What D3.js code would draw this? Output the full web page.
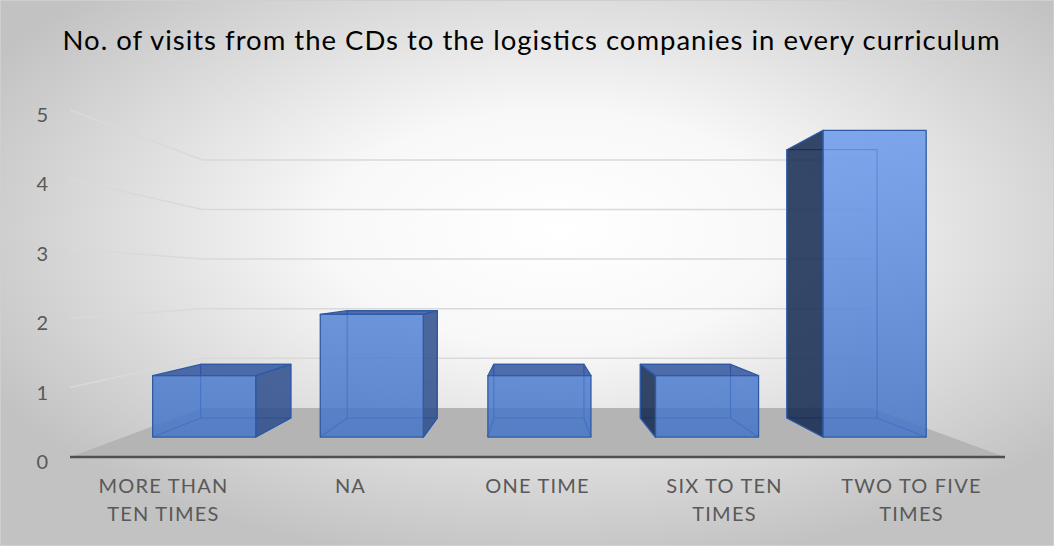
<!DOCTYPE html>
<html>
<head>
<meta charset="utf-8">
<script src="https://cdn.jsdelivr.net/npm/d3@7"></script>
<style>
  html, body { margin: 0; padding: 0; background: #fff; }
  svg { display: block; }
  text { font-family: Lato, "Open Sans", sans-serif; }
</style>
</head>
<body>
<div id="chart"></div>
<script>
// Chart data
const title = "No. of visits from the CDs to the logistics companies in every curriculum";
const categories = ["MORE THAN TEN TIMES", "NA", "ONE TIME", "SIX TO TEN TIMES", "TWO TO FIVE TIMES"];
const categoryLines = [["MORE THAN", "TEN TIMES"], ["NA"], ["ONE TIME"], ["SIX TO TEN", "TIMES"], ["TWO TO FIVE", "TIMES"]];
const visits = [1, 2, 1, 1, 5];
const yTicks = [0, 1, 2, 3, 4, 5];

const W = 1054, H = 546;
const svg = d3.select("#chart").append("svg").attr("width", W).attr("height", H);
const defs = svg.append("defs");

// Background: soft radial shading
const bg = defs.append("radialGradient").attr("id", "bg")
  .attr("cx", "53%").attr("cy", "42%").attr("r", "62%");
bg.append("stop").attr("offset", "0%").attr("stop-color", "#ffffff");
bg.append("stop").attr("offset", "35%").attr("stop-color", "#f8f8f8");
bg.append("stop").attr("offset", "100%").attr("stop-color", "#c2c2c2");
svg.append("rect").attr("x", 0.5).attr("y", 0.5).attr("width", W - 1).attr("height", H - 1)
  .attr("fill", "url(#bg)").attr("stroke", "#cfcfcf").attr("stroke-width", 1);

// Front face shading (lighter towards the top)
const fg = defs.append("linearGradient").attr("id", "frontFill")
  .attr("gradientUnits", "userSpaceOnUse").attr("x1", 0).attr("y1", 130).attr("x2", 0).attr("y2", 440);
fg.append("stop").attr("offset", "0%").attr("stop-color", "#6a9aec");
fg.append("stop").attr("offset", "100%").attr("stop-color", "#4574c6");

// Perspective set-up: one vanishing point, front plane scales, depth scale
const vp = { x: 535, y: 285 };
const yFront = d3.scaleLinear().domain([0, 5]).range([457, 110]);
const xCat = d3.scaleBand().domain(categories).range([70, 1005]);
const xBar = d3.scaleBand().domain(categories).range([66, 1014]).paddingInner(0.385).paddingOuter(0.1925);
const depth = d3.scaleLinear().domain([0, 1]).range([1, 0.715]);
const barDepth = [0.407, 0.796];

function project(x, v, z) {
  const s = depth(z);
  return [vp.x + (x - vp.x) * s, vp.y + (yFront(v) - vp.y) * s];
}
const poly = pts => "M" + pts.map(p => p.join(",")).join("L") + "Z";

const plot = svg.append("g");

// Floor
const floorX = xCat.range();
plot.append("path")
  .attr("d", poly([project(floorX[0], 0, 0), project(floorX[1], 0, 0), project(floorX[1], 0, 1), project(floorX[0], 0, 1)]))
  .attr("fill", "#b4b4b4");

// Gridlines: left side wall and back wall
yTicks.filter(v => v > 0).forEach(v => {
  const a = project(floorX[0], v, 0), b = project(floorX[0], v, 1), c = project(floorX[1], v, 1);
  plot.append("path").attr("d", `M${a}L${b}L${c}`)
    .attr("fill", "none").attr("stroke", "#d9d9d9").attr("stroke-width", 1.5);
});

// Category axis line
plot.append("line")
  .attr("x1", project(floorX[0], 0, 0)[0]).attr("x2", project(floorX[1], 0, 0)[0])
  .attr("y1", yFront(0)).attr("y2", yFront(0))
  .attr("stroke", "#505050").attr("stroke-width", 2.5);

// Bars drawn as transparent boxes
const edge = "#2f5aa6";
categories.forEach((cat, i) => {
  const v = visits[i];
  const x0 = xBar(cat), x1 = x0 + xBar.bandwidth();
  const [zf, zb] = barDepth;
  const P = (x, y, z) => project(x, y, z);
  const g = plot.append("g");

  // Hidden edges (seen through the faces)
  g.append("path").attr("d", poly([P(x0, 0, zb), P(x1, 0, zb), P(x1, v, zb), P(x0, v, zb)]))
    .attr("fill", "none").attr("stroke", edge).attr("stroke-width", 1.2);
  g.append("path").attr("d", `M${P(x0, 0, zf)}L${P(x0, 0, zb)}M${P(x1, 0, zf)}L${P(x1, 0, zb)}`)
    .attr("fill", "none").attr("stroke", edge).attr("stroke-width", 1.2);

  const sideStyle = (sel, color) => sel.attr("fill", color).attr("fill-opacity", 0.85)
    .attr("stroke", edge).attr("stroke-width", 1.3).attr("stroke-linejoin", "round");

  // Visible side faces
  if (P(x1, 0, zf)[0] < vp.x) {
    sideStyle(g.append("path").attr("d", poly([P(x1, 0, zf), P(x1, 0, zb), P(x1, v, zb), P(x1, v, zf)])), "#2b4c8c");
  }
  if (P(x0, 0, zf)[0] > vp.x) {
    sideStyle(g.append("path").attr("d", poly([P(x0, 0, zf), P(x0, 0, zb), P(x0, v, zb), P(x0, v, zf)])), "#13284f");
  }
  // Top face when it lies below eye level
  if (yFront(v) > vp.y) {
    sideStyle(g.append("path").attr("d", poly([P(x0, v, zf), P(x1, v, zf), P(x1, v, zb), P(x0, v, zb)])), "#30559c");
  }
  // Front face
  sideStyle(g.append("path").attr("d", poly([P(x0, 0, zf), P(x1, 0, zf), P(x1, v, zf), P(x0, v, zf)])), "url(#frontFill)");
});

// Value axis labels
svg.append("g").selectAll("text").data(yTicks).join("text")
  .attr("x", 48).attr("y", d => yFront(d) + 4)
  .attr("text-anchor", "end").attr("dominant-baseline", "central")
  .attr("font-size", 20).attr("fill", "#595959")
  .text(d => d);

// Category labels
const catG = svg.append("g");
categories.forEach((cat, i) => {
  const cx = xCat(cat) + xCat.bandwidth() / 2;
  const t = catG.append("text")
    .attr("x", cx).attr("y", 493)
    .attr("text-anchor", "middle").attr("font-size", 20).attr("fill", "#595959")
    .attr("letter-spacing", 1.2);
  categoryLines[i].forEach((line, k) => {
    t.append("tspan").attr("x", cx).attr("dy", k === 0 ? 0 : 28).text(line);
  });
});

// Title
svg.append("text")
  .attr("x", 531).attr("y", 50).attr("text-anchor", "middle")
  .attr("font-size", 27.5).attr("fill", "#000")
  .attr("textLength", 937).attr("lengthAdjust", "spacing")
  .text(title);
</script>
</body>
</html>
